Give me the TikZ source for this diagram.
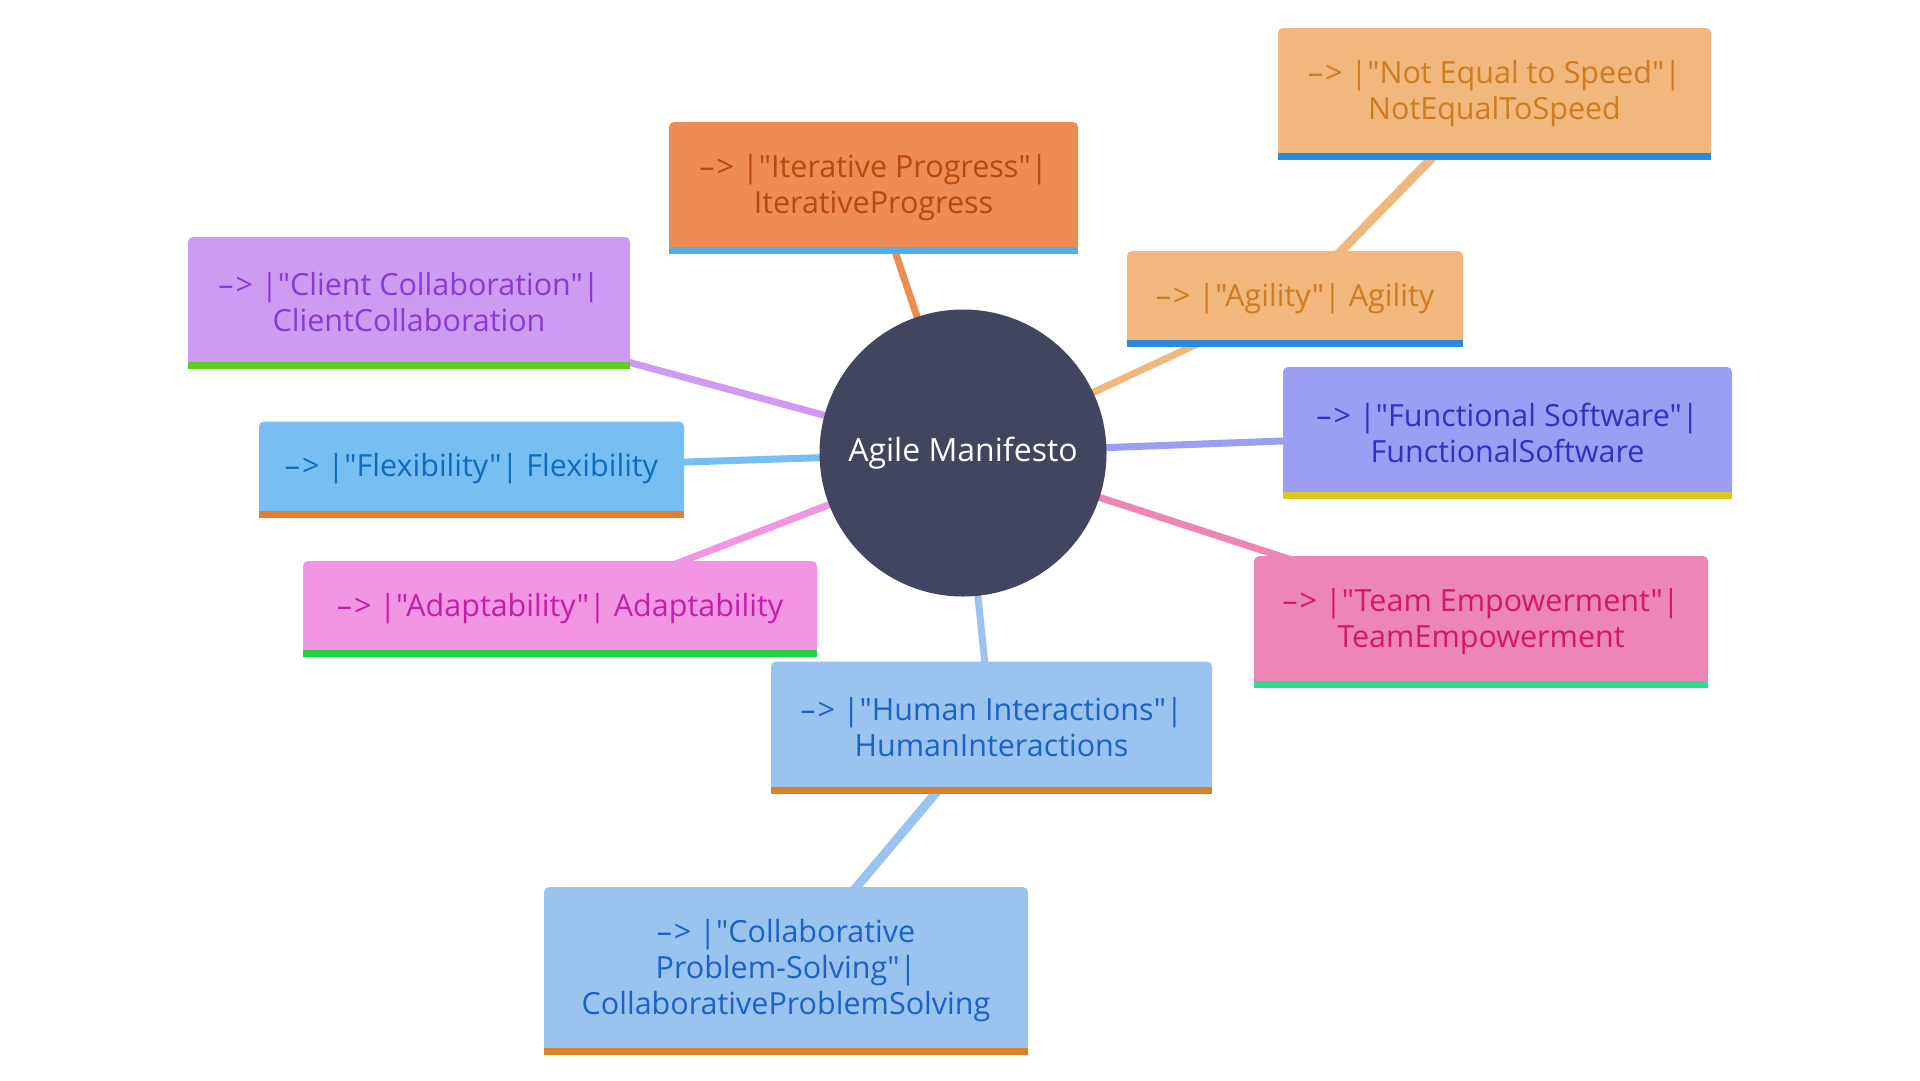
\documentclass[tikz,border=0pt]{standalone}
\usepackage{fontspec}
\setmainfont{Open Sans}[Ligatures=TeXOff]
\pgfdeclarelayer{background}
\pgfsetlayers{background,main}
\definecolor{rootc}{HTML}{414560}
\definecolor{iterF}{HTML}{EE8C55}\definecolor{iterT}{HTML}{B84A0C}\definecolor{iterB}{HTML}{4DB0EC}
\definecolor{agiF}{HTML}{F2B77C}\definecolor{agiT}{HTML}{D07B1F}\definecolor{agiB}{HTML}{2B89E0}
\definecolor{cliF}{HTML}{CD9CF2}\definecolor{cliT}{HTML}{8C38D2}\definecolor{cliB}{HTML}{62CC20}
\definecolor{funF}{HTML}{9B9EF2}\definecolor{funT}{HTML}{2E32C2}\definecolor{funB}{HTML}{D9C822}
\definecolor{flxF}{HTML}{77BFF2}\definecolor{flxT}{HTML}{0E6CBF}\definecolor{flxB}{HTML}{E87C2C}
\definecolor{adpF}{HTML}{F296E4}\definecolor{adpT}{HTML}{C020A8}\definecolor{adpB}{HTML}{20D03E}
\definecolor{temF}{HTML}{EC86B4}\definecolor{temT}{HTML}{D41868}\definecolor{temB}{HTML}{2EDD8A}
\definecolor{humF}{HTML}{9AC3F0}\definecolor{humT}{HTML}{1A63C4}\definecolor{humB}{HTML}{D8832A}
\tikzset{
  agshape/.style={rectangle, rounded corners=5pt, inner sep=0pt},
  agtext/.style={inner sep=0pt, align=center, font=\fontsize{30.5}{36}\selectfont},
  edge1/.style={line width=7pt},
  edge2/.style={line width=9pt},
}
\newcommand\arr{–\kern2pt>\ }
% name, cx, cy, w, h, fill, text, bar, label
\newcommand\agbox[9]{%
  \node[agshape, fill=#6, minimum width=#4pt, minimum height={#5pt-7pt}] (#1box) at (#2,#3-3.5) {};
  \fill[#6] ([yshift=8pt]#1box.south west) rectangle (#1box.south east);
  \fill[#8] (#1box.south west) rectangle ([yshift=-7pt]#1box.south east);
  \node[agtext, text=#7] (#1) at (#2,#3-0.5) {#9};
}
\begin{document}
\begin{tikzpicture}[x=1pt,y=-1pt]
\begin{pgfonlayer}{background}
\fill[white] (0,0) rectangle (1920,1080);
\end{pgfonlayer}
\useasboundingbox (0,0) rectangle (1920,1080);
\node[circle, fill=rootc, minimum size=287pt, inner sep=0pt, text=white,
  font=\fontsize{32}{36}\selectfont] (root) at (963,453) {Agile Manifesto};
\agbox{iter}{873.5}{188}{409}{132}{iterF}{iterT}{iterB}{\arr|"Iterative Progress"|\\IterativeProgress}
\agbox{noteq}{1494.5}{94}{433}{132}{agiF}{agiT}{agiB}{\arr|"Not Equal to Speed"|\\NotEqualToSpeed}
\agbox{client}{409}{303}{442}{132}{cliF}{cliT}{cliB}{\arr|"Client Collaboration"|\\ClientCollaboration}
\agbox{agility}{1295}{299}{336}{96}{agiF}{agiT}{agiB}{\arr|"Agility"| Agility}
\agbox{func}{1507.5}{433}{449}{132}{funF}{funT}{funB}{\arr|"Functional Software"|\\FunctionalSoftware}
\agbox{flex}{471.5}{469.5}{425}{96}{flxF}{flxT}{flxB}{\arr|"Flexibility"| Flexibility}
\agbox{adapt}{560}{609}{514}{96}{adpF}{adpT}{adpB}{\arr|"Adaptability"| Adaptability}
\agbox{team}{1481}{622}{454}{132}{temF}{temT}{temB}{\arr|"Team Empowerment"|\\TeamEmpowerment}
\agbox{human}{991.5}{727.5}{441}{132}{humF}{humT}{humB}{\arr|"Human Interactions"|\\HumanInteractions}
\agbox{collab}{786}{971}{484}{168}{humF}{humT}{humB}{\arr|"Collaborative\\Problem-Solving"|\\CollaborativeProblemSolving}
\begin{pgfonlayer}{background}
  \draw[edge1, iterF] (root.center) -- (iter.center);
  \draw[edge1, cliF] (root.center) -- (client.center);
  \draw[edge1, flxF] (root.center) -- (flex.center);
  \draw[edge1, adpF] (root.center) -- (adapt.center);
  \draw[edge1, humF] (root.center) -- (human.center);
  \draw[edge1, temF] (root.center) -- (team.center);
  \draw[edge1, funF] (root.center) -- (func.center);
  \draw[edge1, agiF] (root.center) -- (agility.center);
  \draw[edge2, agiF] (agility.center) -- (noteq.center);
  \draw[edge2, humF] (human.center) -- (collab.center);
\end{pgfonlayer}
\end{tikzpicture}
\end{document}
